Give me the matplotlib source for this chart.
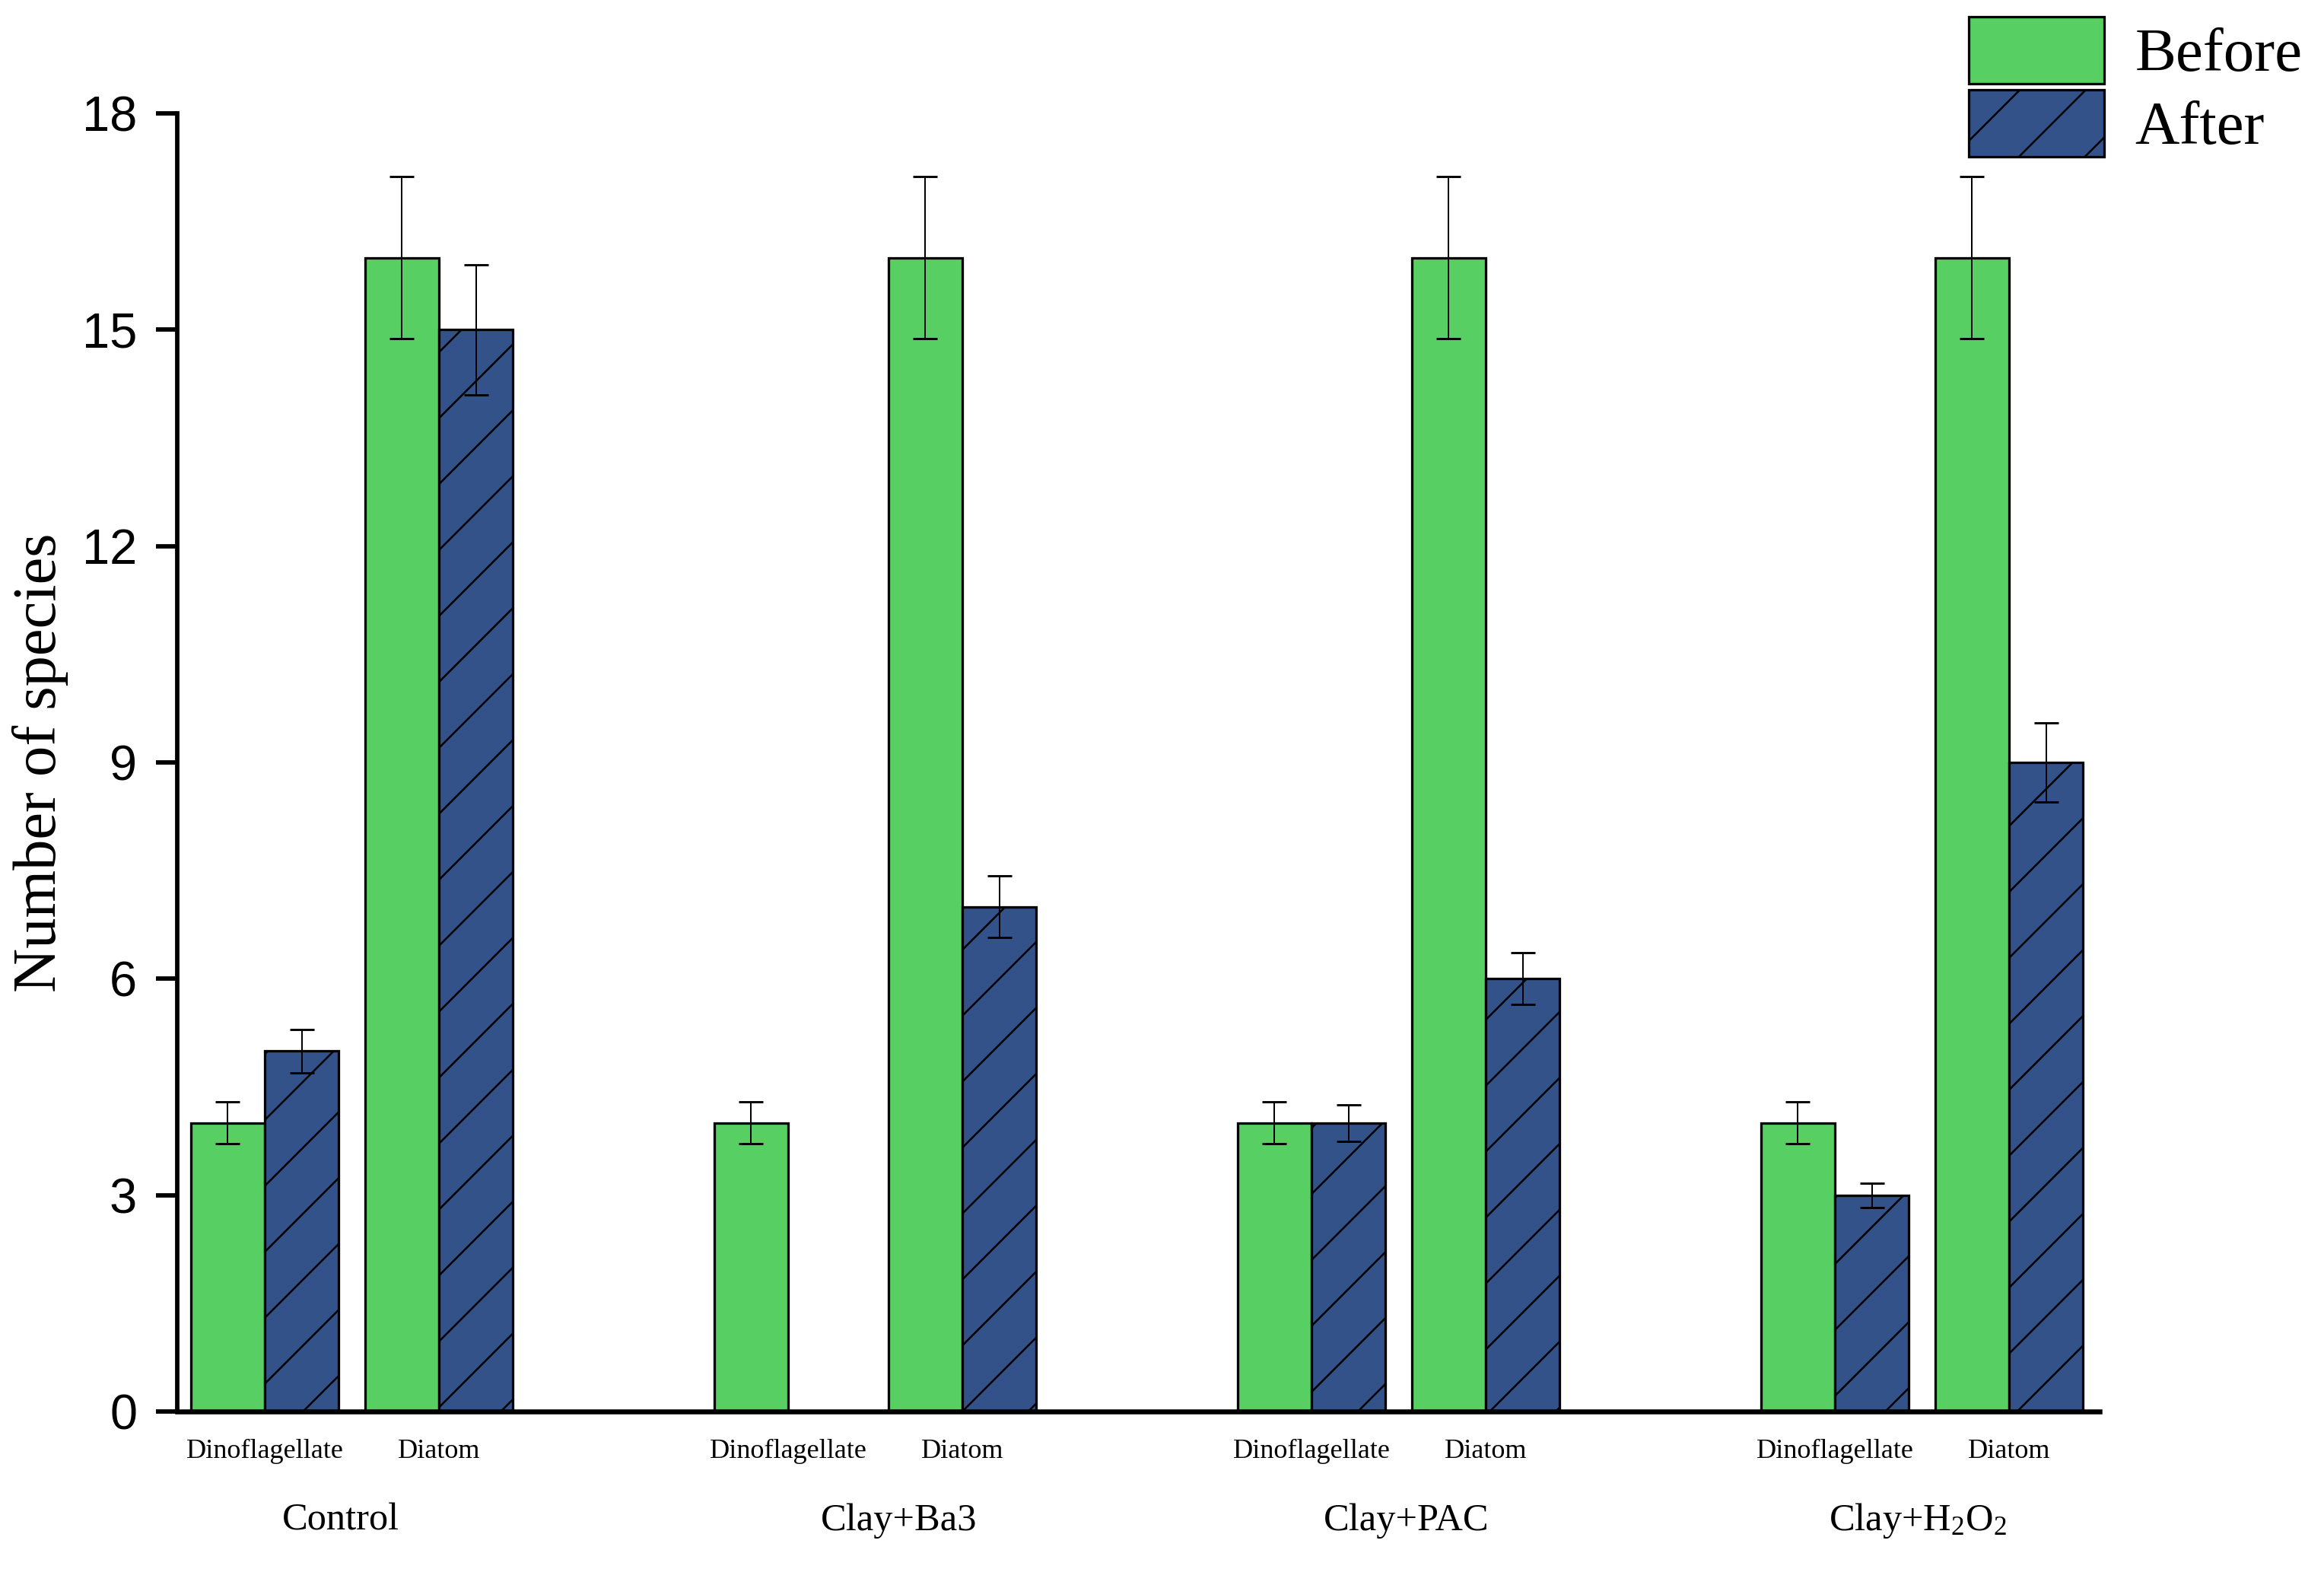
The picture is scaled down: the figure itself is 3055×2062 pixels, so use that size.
import numpy as np
import matplotlib
matplotlib.use("Agg")
import matplotlib.pyplot as plt
from matplotlib.patches import Patch
import matplotlib.transforms as mtransforms

# ---- data ----
groups = ["Control", "Clay+Ba3", "Clay+PAC", "Clay+H$_2$O$_2$"]
categories = ["Dinoflagellate", "Diatom"]
# values ordered: group -> (Dinoflagellate, Diatom)
before_vals = [[4, 16], [4, 16], [4, 16], [4, 16]]
before_err = [[0.29, 1.12], [0.29, 1.12], [0.29, 1.12], [0.29, 1.12]]
after_vals = [[5, 15], [0, 7], [4, 6], [3, 9]]
after_err = [[0.3, 0.9], [0.0, 0.43], [0.25, 0.36], [0.17, 0.55]]
yticks = [0, 3, 6, 9, 12, 15, 18]
legend_labels = ["Before", "After"]

green = "#58CF63"
blue = "#34528A"

DPI = 260
plt.rcParams["hatch.linewidth"] = 0.7
plt.rcParams["mathtext.fontset"] = "custom"
plt.rcParams["mathtext.rm"] = "Liberation Serif"
plt.rcParams["mathtext.it"] = "Liberation Serif:italic"

fig = plt.figure(figsize=(3055 / DPI, 2062 / DPI), dpi=DPI)
ax = fig.add_axes([0.0763, 0.1004, 0.9034 - 0.0763, 0.9277 - 0.1004])

group_step = 7.0
cat_offset = 2.33
bw = 0.99

gpos = np.arange(len(groups)) * group_step
tick_pos, tick_lab = [], []
for gi, g0 in enumerate(gpos):
    for ci, cat in enumerate(categories):
        c = g0 + ci * cat_offset
        tick_pos.append(c)
        tick_lab.append(cat)
        xb = c - bw / 2
        xa = c + bw / 2
        ax.bar(xb, before_vals[gi][ci], width=bw, color=green,
               edgecolor="black", linewidth=0.9, zorder=2)
        ax.bar(xa, after_vals[gi][ci], width=bw, color=blue,
               edgecolor="black", linewidth=0.9, hatch="/", zorder=2)
        ax.errorbar(xb, before_vals[gi][ci], yerr=before_err[gi][ci],
                    fmt="none", ecolor="black", elinewidth=0.55,
                    capsize=4.3, capthick=0.8, zorder=3)
        if after_vals[gi][ci] > 0:
            ax.errorbar(xa, after_vals[gi][ci], yerr=after_err[gi][ci],
                        fmt="none", ecolor="black", elinewidth=0.55,
                        capsize=4.3, capthick=0.8, zorder=3)

ax.set_xlim(-1.17, 24.54)
ax.set_ylim(0, 18)
ax.set_yticks(yticks)
ax.set_yticklabels([str(v) for v in yticks], fontfamily="Liberation Sans",
                   fontsize=18)
ax.tick_params(axis="y", direction="out", length=7.7, width=1.6, pad=7)
ax.set_xticks([])

for s in ["top", "right"]:
    ax.spines[s].set_visible(False)
ax.spines["left"].set_linewidth(1.6)
ax.spines["bottom"].set_linewidth(1.8)

trans = mtransforms.blended_transform_factory(ax.transData, ax.transAxes)
for x, lab in zip(tick_pos, tick_lab):
    ax.text(x, -0.0305, lab, transform=trans, ha="center", va="center",
            fontfamily="Liberation Serif", fontsize=10)

group_label_shift = [-0.15, 0.32, 0.1, -0.06]
for gi, g0 in enumerate(gpos):
    cx = g0 + cat_offset / 2 + group_label_shift[gi]
    ax.text(cx, -0.084, groups[gi], transform=trans, ha="center",
            va="center", fontfamily="Liberation Serif", fontsize=14)

ylab = ax.set_ylabel("Number of species", fontfamily="Liberation Serif",
                     fontsize=22.3)
ylab.set_verticalalignment("center")
ax.yaxis.set_label_coords((53 - 233) / (2760 - 233), 0.5)

handles = [Patch(facecolor=green, edgecolor="black", linewidth=0.9),
           Patch(facecolor=blue, edgecolor="black", linewidth=0.9, hatch="/")]
fig.legend(handles, legend_labels, loc="upper left",
           bbox_to_anchor=(2588 / 3055, 1 - 22 / 2062), frameon=False,
           borderpad=0, borderaxespad=0, handlelength=2.2,
           handleheight=1.29, labelspacing=0.1, handletextpad=0.5,
           prop={"family": "Liberation Serif", "size": 22.4})

fig.savefig("out.png", dpi=DPI, facecolor="white")
